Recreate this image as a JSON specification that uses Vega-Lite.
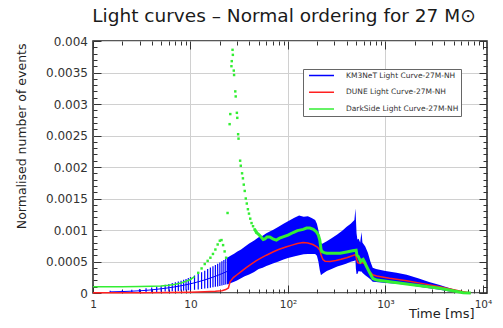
{
  "$schema": "https://vega.github.io/schema/vega-lite/v6.json",
  "width": 394,
  "height": 252,
  "autosize": "none",
  "padding": {"left": 93, "top": 41, "right": 16, "bottom": 35},
  "background": "#ffffff",
  "title": {"text": "Light curves – Normal ordering for 27 M⊙", "font": "DejaVu Sans", "fontSize": 18.5, "fontWeight": "normal", "color": "#1a1a1a", "anchor": "middle", "frame": "group", "offset": 10, "dx": -6},
  "config": {
    "view": {"stroke": "#222222", "strokeWidth": 1.5},
    "font": "DejaVu Sans",
    "axis": {"domain": false, "tickColor": "#333333", "tickWidth": 1, "labelColor": "#333333", "gridColor": "#d0d0d0", "labelFont": "DejaVu Sans", "titleFont": "DejaVu Sans", "titleFontWeight": "normal", "titleColor": "#222222", "labelFlush": false, "labelOverlap": false}
  },
  "datasets": {
    "km3": [
      {"t": 1.5, "v": 1.8e-5, "lo": 3e-6, "hi": 3.5e-5},
      {"t": 2, "v": 2.3e-5, "lo": 5e-6, "hi": 4.3e-5},
      {"t": 2.5, "v": 2.9e-5, "lo": 7e-6, "hi": 5.2e-5},
      {"t": 3, "v": 3.5e-5, "lo": 9e-6, "hi": 6.2e-5},
      {"t": 3.5, "v": 4.2e-5, "lo": 1.1e-5, "hi": 7.4e-5},
      {"t": 4, "v": 5.0e-5, "lo": 1.4e-5, "hi": 8.8e-5},
      {"t": 4.5, "v": 5.9e-5, "lo": 1.7e-5, "hi": 1.03e-4},
      {"t": 5, "v": 6.7e-5, "lo": 2.0e-5, "hi": 1.16e-4},
      {"t": 5.5, "v": 7.5e-5, "lo": 2.2e-5, "hi": 1.3e-4},
      {"t": 6, "v": 8.3e-5, "lo": 2.5e-5, "hi": 1.44e-4},
      {"t": 6.5, "v": 9.1e-5, "lo": 2.7e-5, "hi": 1.57e-4},
      {"t": 7, "v": 9.9e-5, "lo": 3.0e-5, "hi": 1.7e-4},
      {"t": 7.5, "v": 1.07e-4, "lo": 3.2e-5, "hi": 1.83e-4},
      {"t": 8, "v": 1.15e-4, "lo": 3.5e-5, "hi": 1.96e-4},
      {"t": 8.5, "v": 1.23e-4, "lo": 3.7e-5, "hi": 2.1e-4},
      {"t": 9, "v": 1.31e-4, "lo": 4.0e-5, "hi": 2.24e-4},
      {"t": 9.5, "v": 1.39e-4, "lo": 4.3e-5, "hi": 2.38e-4},
      {"t": 10, "v": 1.47e-4, "lo": 4.6e-5, "hi": 2.52e-4},
      {"t": 11, "v": 1.62e-4, "lo": 5.1e-5, "hi": 2.78e-4},
      {"t": 12, "v": 1.78e-4, "lo": 5.7e-5, "hi": 3.04e-4},
      {"t": 13, "v": 1.93e-4, "lo": 6.3e-5, "hi": 3.3e-4},
      {"t": 14, "v": 2.08e-4, "lo": 7.0e-5, "hi": 3.55e-4},
      {"t": 15, "v": 2.23e-4, "lo": 7.7e-5, "hi": 3.8e-4},
      {"t": 16, "v": 2.38e-4, "lo": 8.4e-5, "hi": 4.03e-4},
      {"t": 17, "v": 2.52e-4, "lo": 9.1e-5, "hi": 4.25e-4},
      {"t": 18, "v": 2.66e-4, "lo": 9.8e-5, "hi": 4.46e-4},
      {"t": 19, "v": 2.8e-4, "lo": 1.05e-4, "hi": 4.66e-4},
      {"t": 20, "v": 2.94e-4, "lo": 1.12e-4, "hi": 4.86e-4},
      {"t": 21, "v": 3.07e-4, "lo": 1.19e-4, "hi": 5.05e-4},
      {"t": 22, "v": 3.2e-4, "lo": 1.26e-4, "hi": 5.24e-4},
      {"t": 23, "v": 3.33e-4, "lo": 1.33e-4, "hi": 5.43e-4},
      {"t": 24, "v": 3.46e-4, "lo": 1.4e-4, "hi": 5.62e-4},
      {"t": 26, "v": 3.75e-4, "lo": 1.6e-4, "hi": 5.95e-4},
      {"t": 28, "v": 4.0e-4, "lo": 1.8e-4, "hi": 6.25e-4},
      {"t": 30, "v": 4.25e-4, "lo": 2.0e-4, "hi": 6.55e-4},
      {"t": 33, "v": 4.55e-4, "lo": 2.35e-4, "hi": 6.9e-4},
      {"t": 36, "v": 4.85e-4, "lo": 2.65e-4, "hi": 7.35e-4},
      {"t": 40, "v": 5.3e-4, "lo": 2.95e-4, "hi": 7.85e-4},
      {"t": 45, "v": 5.8e-4, "lo": 3.35e-4, "hi": 8.35e-4},
      {"t": 50, "v": 6.2e-4, "lo": 3.8e-4, "hi": 8.85e-4},
      {"t": 55, "v": 6.5e-4, "lo": 4.0e-4, "hi": 9.1e-4},
      {"t": 60, "v": 6.8e-4, "lo": 4.3e-4, "hi": 9.5e-4},
      {"t": 65, "v": 7.05e-4, "lo": 4.5e-4, "hi": 9.75e-4},
      {"t": 70, "v": 7.3e-4, "lo": 4.7e-4, "hi": 1.0e-3},
      {"t": 80, "v": 7.7e-4, "lo": 5.0e-4, "hi": 1.05e-3},
      {"t": 90, "v": 8.1e-4, "lo": 5.3e-4, "hi": 1.1e-3},
      {"t": 100, "v": 8.4e-4, "lo": 5.55e-4, "hi": 1.14e-3},
      {"t": 115, "v": 8.8e-4, "lo": 5.8e-4, "hi": 1.19e-3},
      {"t": 130, "v": 9.0e-4, "lo": 6.0e-4, "hi": 1.23e-3},
      {"t": 145, "v": 9.1e-4, "lo": 6.15e-4, "hi": 1.21e-3},
      {"t": 160, "v": 9.1e-4, "lo": 6.2e-4, "hi": 1.22e-3},
      {"t": 175, "v": 9.0e-4, "lo": 6.2e-4, "hi": 1.19e-3},
      {"t": 190, "v": 8.8e-4, "lo": 6.2e-4, "hi": 1.16e-3},
      {"t": 198, "v": 8.4e-4, "lo": 5.9e-4, "hi": 1.1e-3},
      {"t": 205, "v": 7.4e-4, "lo": 5.0e-4, "hi": 1.0e-3},
      {"t": 212, "v": 6.0e-4, "lo": 3.6e-4, "hi": 8.6e-4},
      {"t": 218, "v": 5.4e-4, "lo": 2.8e-4, "hi": 7.9e-4},
      {"t": 225, "v": 5.5e-4, "lo": 3.0e-4, "hi": 7.8e-4},
      {"t": 250, "v": 5.8e-4, "lo": 3.5e-4, "hi": 8.2e-4},
      {"t": 280, "v": 6.2e-4, "lo": 3.8e-4, "hi": 8.7e-4},
      {"t": 320, "v": 6.6e-4, "lo": 4.2e-4, "hi": 9.3e-4},
      {"t": 360, "v": 7.0e-4, "lo": 4.45e-4, "hi": 9.9e-4},
      {"t": 400, "v": 7.4e-4, "lo": 4.7e-4, "hi": 1.05e-3},
      {"t": 440, "v": 7.7e-4, "lo": 4.95e-4, "hi": 1.1e-3},
      {"t": 480, "v": 8.0e-4, "lo": 5.1e-4, "hi": 1.16e-3},
      {"t": 492, "v": 8.1e-4, "lo": 5.2e-4, "hi": 1.34e-3},
      {"t": 497, "v": 7.0e-4, "lo": 3.9e-4, "hi": 1.2e-3},
      {"t": 505, "v": 6.2e-4, "lo": 3.0e-4, "hi": 9.5e-4},
      {"t": 515, "v": 5.8e-4, "lo": 3.0e-4, "hi": 8.5e-4},
      {"t": 530, "v": 6.0e-4, "lo": 3.5e-4, "hi": 8.6e-4},
      {"t": 550, "v": 5.7e-4, "lo": 3.4e-4, "hi": 8.0e-4},
      {"t": 568, "v": 6.2e-4, "lo": 3.4e-4, "hi": 9.7e-4},
      {"t": 580, "v": 5.6e-4, "lo": 3.2e-4, "hi": 8.0e-4},
      {"t": 620, "v": 5.1e-4, "lo": 2.8e-4, "hi": 7.4e-4},
      {"t": 660, "v": 4.4e-4, "lo": 2.5e-4, "hi": 6.4e-4},
      {"t": 700, "v": 3.6e-4, "lo": 2.2e-4, "hi": 5.0e-4},
      {"t": 740, "v": 2.9e-4, "lo": 1.8e-4, "hi": 4.0e-4},
      {"t": 800, "v": 2.75e-4, "lo": 1.75e-4, "hi": 3.8e-4},
      {"t": 1000, "v": 2.55e-4, "lo": 1.6e-4, "hi": 3.5e-4},
      {"t": 1300, "v": 2.3e-4, "lo": 1.45e-4, "hi": 3.2e-4},
      {"t": 1650, "v": 2.1e-4, "lo": 1.3e-4, "hi": 2.9e-4},
      {"t": 2200, "v": 1.65e-4, "lo": 1.0e-4, "hi": 2.3e-4},
      {"t": 2800, "v": 1.25e-4, "lo": 7.5e-5, "hi": 1.75e-4},
      {"t": 3600, "v": 8.8e-5, "lo": 5e-5, "hi": 1.27e-4},
      {"t": 4500, "v": 5.2e-5, "lo": 2.5e-5, "hi": 8e-5},
      {"t": 5500, "v": 2.5e-5, "lo": 1e-5, "hi": 4e-5},
      {"t": 6300, "v": 1e-5, "lo": 0, "hi": 2e-5},
      {"t": 7500, "v": 2e-6, "lo": 0, "hi": 5e-6}
    ],
    "dune": [
      {"t": 1, "v": 2e-6}, {"t": 3, "v": 4e-6}, {"t": 6, "v": 7e-6}, {"t": 10, "v": 1.2e-5},
      {"t": 14, "v": 1.8e-5}, {"t": 18, "v": 2.6e-5}, {"t": 21, "v": 3.5e-5}, {"t": 23, "v": 5.5e-5},
      {"t": 24.5, "v": 8e-5}, {"t": 25.5, "v": 1.8e-4}, {"t": 27.5, "v": 2.45e-4}, {"t": 30, "v": 2.9e-4},
      {"t": 33, "v": 3.4e-4}, {"t": 37, "v": 4.0e-4}, {"t": 42, "v": 4.6e-4}, {"t": 47, "v": 5.1e-4},
      {"t": 52, "v": 5.5e-4}, {"t": 60, "v": 6.0e-4}, {"t": 70, "v": 6.5e-4}, {"t": 80, "v": 6.9e-4},
      {"t": 95, "v": 7.3e-4}, {"t": 110, "v": 7.6e-4}, {"t": 125, "v": 7.85e-4}, {"t": 143, "v": 8.0e-4},
      {"t": 160, "v": 7.95e-4}, {"t": 180, "v": 7.7e-4}, {"t": 200, "v": 7.3e-4}, {"t": 212, "v": 6.8e-4},
      {"t": 220, "v": 5.9e-4}, {"t": 228, "v": 5.3e-4}, {"t": 240, "v": 5.05e-4}, {"t": 270, "v": 5.0e-4},
      {"t": 310, "v": 5.15e-4}, {"t": 350, "v": 5.35e-4}, {"t": 400, "v": 5.6e-4}, {"t": 465, "v": 5.95e-4},
      {"t": 495, "v": 6.1e-4}, {"t": 505, "v": 5.4e-4}, {"t": 520, "v": 4.8e-4}, {"t": 545, "v": 4.7e-4},
      {"t": 580, "v": 4.85e-4}, {"t": 610, "v": 4.6e-4}, {"t": 650, "v": 4.0e-4}, {"t": 700, "v": 3.3e-4},
      {"t": 740, "v": 2.9e-4}, {"t": 810, "v": 2.7e-4}, {"t": 1100, "v": 2.35e-4}, {"t": 1650, "v": 1.95e-4},
      {"t": 2500, "v": 1.45e-4}, {"t": 3600, "v": 1.0e-4}, {"t": 5000, "v": 5e-5}, {"t": 6270, "v": 2e-5},
      {"t": 7500, "v": 2e-6}
    ],
    "darkside": [
      {"t": 1, "v": 1.0e-4}, {"t": 1.5, "v": 1.0e-4}, {"t": 2, "v": 1.0e-4}, {"t": 3, "v": 1.02e-4},
      {"t": 4, "v": 1.06e-4}, {"t": 5, "v": 1.12e-4}, {"t": 6, "v": 1.22e-4}, {"t": 7, "v": 1.38e-4},
      {"t": 8, "v": 1.6e-4}, {"t": 9, "v": 1.85e-4}, {"t": 10, "v": 2.15e-4}, {"t": 11, "v": 2.6e-4},
      {"t": 12, "v": 3.2e-4}, {"t": 13, "v": 3.9e-4}, {"t": 14, "v": 4.6e-4}, {"t": 15, "v": 5.1e-4},
      {"t": 16, "v": 5.6e-4}, {"t": 17, "v": 6.2e-4}, {"t": 18, "v": 6.9e-4}, {"t": 19, "v": 7.7e-4},
      {"t": 20, "v": 8.3e-4}, {"t": 20.8, "v": 8.4e-4}, {"t": 21.6, "v": 7.6e-4}, {"t": 22.4, "v": 6.6e-4},
      {"t": 23.2, "v": 5.6e-4}, {"t": 24, "v": 1.27e-3}, {"t": 25.2, "v": 2.68e-3}, {"t": 25.6, "v": 2.84e-3},
      {"t": 26.3, "v": 3.6e-3}, {"t": 26.5, "v": 3.68e-3}, {"t": 27.0, "v": 3.86e-3}, {"t": 27.2, "v": 3.78e-3},
      {"t": 27.8, "v": 3.53e-3}, {"t": 28.0, "v": 3.46e-3}, {"t": 28.8, "v": 3.2e-3}, {"t": 29.1, "v": 3.12e-3},
      {"t": 29.9, "v": 2.86e-3}, {"t": 30.2, "v": 2.78e-3}, {"t": 30.8, "v": 2.52e-3}, {"t": 31.1, "v": 2.45e-3},
      {"t": 32.3, "v": 2.1e-3}, {"t": 32.8, "v": 2.02e-3}, {"t": 33.8, "v": 1.9e-3}, {"t": 34.5, "v": 1.82e-3},
      {"t": 35.2, "v": 1.72e-3}, {"t": 36.0, "v": 1.62e-3}, {"t": 36.9, "v": 1.5e-3}, {"t": 37.8, "v": 1.42e-3},
      {"t": 38.8, "v": 1.33e-3}, {"t": 39.8, "v": 1.26e-3}, {"t": 41.0, "v": 1.18e-3}, {"t": 42.3, "v": 1.11e-3},
      {"t": 43.8, "v": 1.06e-3}, {"t": 45.5, "v": 1.01e-3}, {"t": 47.5, "v": 9.6e-4}, {"t": 50, "v": 9.3e-4},
      {"t": 53, "v": 8.9e-4}, {"t": 55.7, "v": 8.5e-4}, {"t": 58, "v": 8.6e-4}, {"t": 61, "v": 8.9e-4},
      {"t": 65, "v": 8.9e-4}, {"t": 70, "v": 8.6e-4}, {"t": 76, "v": 8.4e-4}, {"t": 82, "v": 8.7e-4},
      {"t": 89, "v": 8.9e-4}, {"t": 100, "v": 9.2e-4}, {"t": 113, "v": 9.6e-4}, {"t": 125, "v": 9.9e-4},
      {"t": 143, "v": 1.01e-3}, {"t": 155, "v": 1.03e-3}, {"t": 168, "v": 1.03e-3}, {"t": 182, "v": 1.01e-3},
      {"t": 196, "v": 9.7e-4}, {"t": 205, "v": 9.2e-4}, {"t": 212, "v": 8.4e-4}, {"t": 218, "v": 7.0e-4},
      {"t": 222, "v": 6.6e-4}, {"t": 235, "v": 6.4e-4}, {"t": 250, "v": 6.3e-4}, {"t": 300, "v": 6.3e-4},
      {"t": 343, "v": 6.3e-4}, {"t": 400, "v": 6.5e-4}, {"t": 460, "v": 6.7e-4}, {"t": 500, "v": 6.8e-4},
      {"t": 510, "v": 6.0e-4}, {"t": 525, "v": 5.8e-4}, {"t": 540, "v": 5.4e-4}, {"t": 555, "v": 5.0e-4},
      {"t": 570, "v": 5.2e-4}, {"t": 590, "v": 5.35e-4}, {"t": 615, "v": 4.8e-4}, {"t": 640, "v": 4.2e-4},
      {"t": 690, "v": 3.2e-4}, {"t": 742, "v": 2.3e-4}, {"t": 810, "v": 2.06e-4}, {"t": 1650, "v": 1.43e-4},
      {"t": 3600, "v": 7.5e-5}, {"t": 6270, "v": 5e-6}, {"t": 7500, "v": 0}
    ]
  },
  "resolve": {"axis": {"x": "independent", "y": "independent"}},
  "layer": [
    {
      "data": {"name": "km3"},
      "transform": [{"filter": "datum.t <= 24"}],
      "mark": {"type": "rule", "color": "#0000ff", "strokeWidth": 1.2},
      "encoding": {
        "x": {"field": "t", "type": "quantitative", "scale": {"type": "log", "domain": [1, 11000], "nice": false},
          "axis": {"orient": "bottom", "values": [1, 10, 100, 1000, 10000], "tickSize": -8, "labelPadding": 14, "labelFontSize": 10.5,
            "labelExpr": "datum.value == 1 ? '1' : datum.value == 10 ? '10' : datum.value == 100 ? '10²' : datum.value == 1000 ? '10³' : '10⁴'",
            "grid": true, "gridOpacity": {"condition": {"test": "datum.value >= 10000 || datum.value <= 1", "value": 0}, "value": 1},
            "title": "Time [ms]", "titleFontSize": 13, "titleX": 381, "titleY": 24, "titleAlign": "right", "titleBaseline": "alphabetic", "titleAnchor": "end"}},
        "y": {"field": "lo", "type": "quantitative", "scale": {"domain": [0, 0.004], "nice": false, "zero": true},
          "axis": {"orient": "left", "values": [0, 0.0005, 0.001, 0.0015, 0.002, 0.0025, 0.003, 0.0035, 0.004], "format": "~g",
            "tickSize": -8, "labelPadding": 13.5, "labelFontSize": 12, "grid": true,
            "title": "Normalised number of events", "titleFontSize": 12.5, "titleX": -65, "titleY": 2, "titleAlign": "right", "titleBaseline": "bottom", "titleAngle": -90, "titleAnchor": "end"}},
        "y2": {"field": "hi"}
      }
    },
    {
      "data": {"name": "km3"},
      "transform": [{"filter": "datum.t >= 24"}],
      "mark": {"type": "area", "color": "#0000ff", "opacity": 1},
      "encoding": {
        "x": {"field": "t", "type": "quantitative", "scale": {"type": "log", "domain": [1, 11000], "nice": false},
          "axis": {"orient": "bottom", "values": [2,3,4,5,6,7,8,9,20,30,40,50,60,70,80,90,200,300,400,500,600,700,800,900,2000,3000,4000,5000,6000,7000,8000,9000], "tickSize": -4, "labels": false, "grid": false, "title": null}},
        "y": {"field": "lo", "type": "quantitative", "scale": {"domain": [0, 0.004], "nice": false, "zero": true},
          "axis": {"orient": "left", "values": [0.0001,0.0002,0.0003,0.0004,0.0006,0.0007,0.0008,0.0009,0.0011,0.0012,0.0013,0.0014,0.0016,0.0017,0.0018,0.0019,0.0021,0.0022,0.0023,0.0024,0.0026,0.0027,0.0028,0.0029,0.0031,0.0032,0.0033,0.0034,0.0036,0.0037,0.0038,0.0039], "tickSize": -4, "labels": false, "grid": false, "title": null}},
        "y2": {"field": "hi"}
      }
    },
    {
      "data": {"name": "km3"},
      "mark": {"type": "line", "color": "#0000ff", "strokeWidth": 1},
      "encoding": {
        "x": {"field": "t", "type": "quantitative", "scale": {"type": "log", "domain": [1, 11000], "nice": false},
          "axis": {"orient": "top", "values": [1, 10, 100, 1000, 10000], "tickSize": -8, "labels": false, "grid": false, "title": null}},
        "y": {"field": "v", "type": "quantitative", "scale": {"domain": [0, 0.004], "nice": false, "zero": true},
          "axis": {"orient": "right", "values": [0, 0.0005, 0.001, 0.0015, 0.002, 0.0025, 0.003, 0.0035, 0.004], "tickSize": -8, "labels": false, "grid": false, "title": null}}
      }
    },
    {
      "data": {"name": "dune"},
      "mark": {"type": "line", "strokeWidth": 1.5},
      "encoding": {
        "x": {"field": "t", "type": "quantitative", "scale": {"type": "log", "domain": [1, 11000], "nice": false},
          "axis": {"orient": "top", "values": [2,3,4,5,6,7,8,9,20,30,40,50,60,70,80,90,200,300,400,500,600,700,800,900,2000,3000,4000,5000,6000,7000,8000,9000], "tickSize": -4, "labels": false, "grid": false, "title": null}},
        "y": {"field": "v", "type": "quantitative", "scale": {"domain": [0, 0.004], "nice": false, "zero": true},
          "axis": {"orient": "right", "values": [0.0001,0.0002,0.0003,0.0004,0.0006,0.0007,0.0008,0.0009,0.0011,0.0012,0.0013,0.0014,0.0016,0.0017,0.0018,0.0019,0.0021,0.0022,0.0023,0.0024,0.0026,0.0027,0.0028,0.0029,0.0031,0.0032,0.0033,0.0034,0.0036,0.0037,0.0038,0.0039], "tickSize": -4, "labels": false, "grid": false, "title": null}},
        "color": {"datum": "DUNE Light Curve-27M-NH",
          "scale": {"domain": ["KM3NeT Light Curve-27M-NH", "DUNE Light Curve-27M-NH", "DarkSide Light Curve-27M-NH"], "range": ["#0000ff", "#ff2020", "#33ee33"]},
          "legend": {"orient": "none", "legendX": 210, "legendY": 28, "title": null, "symbolType": "stroke", "symbolSize": 625, "symbolStrokeWidth": 1.5, "symbolOffset": 3, "labelOffset": 11, "labelFont": "DejaVu Sans", "labelFontSize": 7.5, "labelColor": "#333333", "padding": 2, "clipHeight": 9, "rowPadding": 7.8, "strokeColor": "#666666", "fillColor": "#ffffff", "labelExpr": "datum.label + '     '"}}
      }
    },
    {
      "data": {"name": "darkside"},
      "transform": [{"filter": "datum.t <= 11"}],
      "mark": {"type": "line", "color": "#33ee33", "strokeWidth": 1.6},
      "encoding": {
        "x": {"field": "t", "type": "quantitative", "scale": {"type": "log", "domain": [1, 11000], "nice": false}, "axis": null},
        "y": {"field": "v", "type": "quantitative", "scale": {"domain": [0, 0.004], "nice": false, "zero": true}, "axis": null}
      }
    },
    {
      "data": {"name": "darkside"},
      "transform": [{"filter": "datum.t > 11 && datum.t <= 48"}],
      "mark": {"type": "point", "shape": "square", "filled": true, "color": "#33ee33", "size": 6, "opacity": 1},
      "encoding": {
        "x": {"field": "t", "type": "quantitative", "scale": {"type": "log", "domain": [1, 11000], "nice": false}, "axis": null},
        "y": {"field": "v", "type": "quantitative", "scale": {"domain": [0, 0.004], "nice": false, "zero": true}, "axis": null}
      }
    },
    {
      "data": {"name": "darkside"},
      "transform": [{"filter": "datum.t >= 45"}],
      "mark": {"type": "line", "color": "#33ee33", "strokeWidth": 3},
      "encoding": {
        "x": {"field": "t", "type": "quantitative", "scale": {"type": "log", "domain": [1, 11000], "nice": false}, "axis": null},
        "y": {"field": "v", "type": "quantitative", "scale": {"domain": [0, 0.004], "nice": false, "zero": true}, "axis": null}
      }
    }
  ]
}
